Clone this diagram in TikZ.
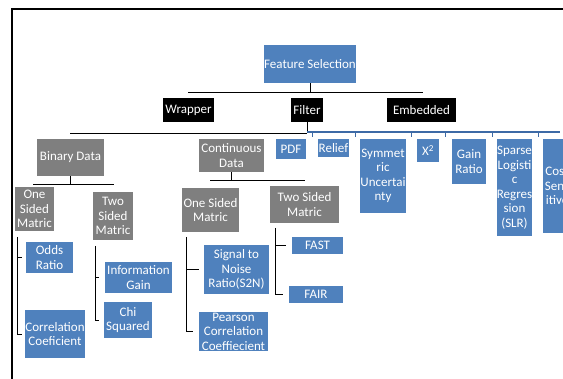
\documentclass[tikz,border=0pt]{standalone}
\usepackage{fontspec}
\setmainfont{Carlito}
\definecolor{boxblue}{HTML}{4F81BD}
\definecolor{boxgray}{HTML}{7F7F7F}
\definecolor{busblue}{HTML}{3D6AA6}
\begin{document}
\begin{tikzpicture}[x=1pt,y=-1pt,
    every node/.style={align=center,inner sep=0pt,text=white,font=\fontsize{13}{14.5}\selectfont},
    blu/.style={fill=boxblue},
    gry/.style={fill=boxgray},
    blk/.style={fill=black},
    lnk/.style={line width=0.9pt}]
        \useasboundingbox (0,0) rectangle (563,379);
        \draw[line width=1.4pt] (12,379) -- (12,9) -- (563,9);

        \node[blu,minimum width=92,minimum height=38] (fs) at (310,64) {Feature Selection};

        \node[blk,minimum width=51,minimum height=24] (wrapper) at (188.5,110) {Wrapper};
        \node[blk,minimum width=32,minimum height=24] (filter) at (307,110) {Filter};
        \node[blk,minimum width=69,minimum height=24] (embedded) at (421.5,110) {Embedded};

        \coordinate (tbL) at (188,92);
        \coordinate (tbR) at (423,92);
        \draw[lnk] (fs.south) -- (fs.south |- tbL);
        \draw[lnk] (tbL) -- (tbR);

        \coordinate (lbL) at (70,133);
        \coordinate (lbR) at (560,132);
        \draw[lnk] (filter.south) -- (filter.south |- lbL);
        \draw[lnk] (lbL) -- (filter.south |- lbL);
        \draw[line width=2pt,busblue] (filter.south |- lbR) -- (lbR);

        \node[gry,minimum width=67,minimum height=37] (binary) at (70.5,157.5) {Binary Data};
        \node[gry,minimum width=65,minimum height=33] (cont) at (231.5,155.5) {Continuous\\Data};
        \node[blu,minimum width=30,minimum height=20] (pdf) at (291,149) {PDF};
        \node[blu,minimum width=31,minimum height=18] (relief) at (333.5,148) {Relief};
        \node[blu,minimum width=44,minimum height=74] (symm) at (383,176) {Symmet\\ric\\Uncertai\\nty};
        \node[blu,minimum width=22,minimum height=23] (chi2) at (428,150.5) {X\textsuperscript{2}};
        \node[blu,minimum width=34,minimum height=45] (gain) at (469,161.5) {Gain\\Ratio};
        \node[blu,minimum width=33,minimum height=97] (slr) at (514.5,187.5) {Sparse\\Logisti\\c\\Regres\\sion\\(SLR)};
        \node[blu,minimum width=28,minimum height=94] (cost) at (557,186) {Cost\\Sens\\itive};

        \foreach \n in {pdf,relief,symm,chi2,gain,slr}
            \draw[line width=1pt,busblue] ([xshift=6pt]\n.north east |- lbR) -- ++(0,5);

        \coordinate (bbL) at (33,184);
        \coordinate (bbR) at (114,184);
        \draw[lnk] (binary.south) -- (binary.south |- bbL);
        \draw[lnk] (bbL) -- (bbR);

        \node[gry,minimum width=39,minimum height=44] (os1) at (34.5,209) {One\\Sided\\Matric};
        \node[gry,minimum width=40,minimum height=48] (ts1) at (113,216) {Two\\Sided\\Matric};

        \node[blu,minimum width=47,minimum height=31] (odds) at (49.5,257.5) {Odds\\Ratio};
        \node[blu,minimum width=60,minimum height=48] (corr) at (55,334) {Correlation\\Coeficient};
        \node[blu,minimum width=67,minimum height=31] (info) at (138.5,277.5) {Information\\Gain};
        \node[blu,minimum width=48,minimum height=36] (chisq) at (128,320) {Chi\\Squared};

        \coordinate (b1) at (17,237);
        \draw[lnk] (b1) -- (b1 |- corr.west) -- ++(5,0);
        \draw[lnk] (b1 |- odds.west) -- ++(5,0);
        \coordinate (b2) at (95,246);
        \draw[lnk] (b2) -- (b2 |- chisq.west) -- ++(4,0);
        \draw[lnk] (b2 |- info.west) -- ++(4,0);

        \coordinate (cbL) at (210,180);
        \coordinate (cbR) at (305,180);
        \draw[lnk] (cont.south) -- (cont.south |- cbL);
        \draw[lnk] (cbL) -- (cbR);

        \node[gry,minimum width=57,minimum height=44] (os2) at (210.5,210) {One Sided\\Matric};
        \node[gry,minimum width=69,minimum height=37] (ts2) at (304.5,204.5) {Two Sided\\Matric};

        \node[blu,minimum width=65,minimum height=49] (s2n) at (236.5,269.5) {Signal to\\Noise\\Ratio(S2N)};
        \node[blu,minimum width=69,minimum height=39] (pearson) at (233.5,331.5) {Pearson\\Correlation\\Coeffiecient};
        \node[blu,minimum width=51,minimum height=17] (fast) at (317.5,245.5) {FAST};
        \node[blu,minimum width=54,minimum height=17] (fair) at (316,294.5) {FAIR};

        \coordinate (b3) at (186,237);
        \draw[lnk] (b3) -- (b3 |- pearson.west) -- ++(7,0);
        \draw[lnk] (b3 |- s2n.west) -- ++(13,0);
        \coordinate (b4) at (275,228);
        \draw[lnk] (b4) -- (b4 |- fair.west) -- ++(8,0);
        \draw[lnk] (b4 |- fast.west) -- ++(11,0);

    \end{tikzpicture}
\end{document}
